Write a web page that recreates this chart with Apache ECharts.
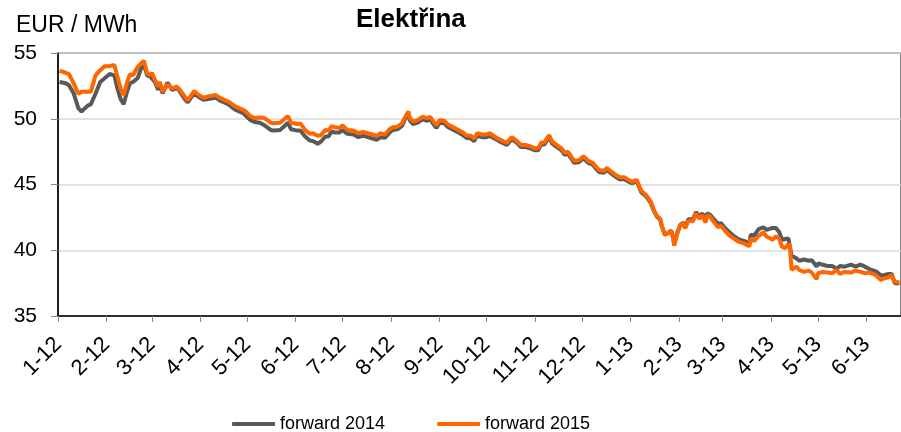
<!DOCTYPE html>
<html>
<head>
<meta charset="utf-8">
<script src="https://cdn.jsdelivr.net/npm/echarts@6/dist/echarts.min.js"></script>
<style>
  html, body { margin: 0; padding: 0; background: #fff; }
  #chart { width: 901px; height: 432px; }
</style>
</head>
<body>
<div id="chart"></div>
<script>
// trading days
const dates = [
  '2012-01-02','2012-01-03','2012-01-06','2012-01-08','2012-01-11','2012-01-14','2012-01-16','2012-01-20','2012-01-22','2012-01-25','2012-01-28','2012-01-31',
  '2012-02-03','2012-02-06','2012-02-08','2012-02-10','2012-02-12','2012-02-14','2012-02-16','2012-02-18','2012-02-21','2012-02-23','2012-02-25','2012-02-27','2012-02-29',
  '2012-03-01','2012-03-03','2012-03-05','2012-03-06','2012-03-08','2012-03-11','2012-03-14','2012-03-17','2012-03-19','2012-03-22','2012-03-24','2012-03-28','2012-03-31',
  '2012-04-03','2012-04-06','2012-04-11','2012-04-14','2012-04-17','2012-04-19','2012-04-22','2012-04-24','2012-04-28','2012-04-30',
  '2012-05-03','2012-05-06','2012-05-09','2012-05-12','2012-05-16','2012-05-18','2012-05-22','2012-05-24','2012-05-27','2012-05-29',
  '2012-06-02','2012-06-04','2012-06-07','2012-06-10','2012-06-12','2012-06-15','2012-06-17','2012-06-20','2012-06-22','2012-06-24','2012-06-26','2012-06-29',
  '2012-07-01','2012-07-04','2012-07-08','2012-07-11','2012-07-14','2012-07-17','2012-07-20','2012-07-23','2012-07-25','2012-07-28','2012-07-31',
  '2012-08-02','2012-08-05','2012-08-08','2012-08-10','2012-08-12','2012-08-13','2012-08-15','2012-08-18','2012-08-21','2012-08-24','2012-08-26','2012-08-28','2012-08-30',
  '2012-09-01','2012-09-04','2012-09-06','2012-09-09','2012-09-13','2012-09-16','2012-09-18','2012-09-21','2012-09-23','2012-09-25','2012-09-28',
  '2012-10-01','2012-10-03','2012-10-06','2012-10-09','2012-10-14','2012-10-17','2012-10-20','2012-10-23','2012-10-26','2012-10-29',
  '2012-11-01','2012-11-03','2012-11-05','2012-11-07','2012-11-10','2012-11-12','2012-11-15','2012-11-18','2012-11-20','2012-11-22','2012-11-24','2012-11-26','2012-11-29',
  '2012-12-02','2012-12-05','2012-12-08','2012-12-10','2012-12-12','2012-12-15','2012-12-17','2012-12-20','2012-12-23','2012-12-25','2012-12-28','2012-12-31',
  '2013-01-02','2013-01-05','2013-01-08','2013-01-11','2013-01-14','2013-01-16','2013-01-18','2013-01-20','2013-01-21','2013-01-23','2013-01-25','2013-01-27','2013-01-28','2013-01-29','2013-01-31',
  '2013-02-02','2013-02-04','2013-02-05','2013-02-07','2013-02-10','2013-02-12','2013-02-14','2013-02-16','2013-02-18','2013-02-19','2013-02-21','2013-02-23','2013-02-26','2013-02-28',
  '2013-03-02','2013-03-05','2013-03-08','2013-03-11','2013-03-15','2013-03-18','2013-03-19','2013-03-21','2013-03-24','2013-03-27','2013-03-29',
  '2013-04-02','2013-04-04','2013-04-06','2013-04-08','2013-04-10','2013-04-12','2013-04-13','2013-04-14','2013-04-17','2013-04-19','2013-04-22','2013-04-25','2013-04-27','2013-04-30',
  '2013-05-01','2013-05-04','2013-05-07','2013-05-10','2013-05-13','2013-05-15','2013-05-18','2013-05-22','2013-05-25','2013-05-28','2013-05-31',
  '2013-06-03','2013-06-07','2013-06-10','2013-06-12','2013-06-15','2013-06-17','2013-06-19','2013-06-22'
];

const forward2014 = [
  52.8, 52.75, 52.7, 52.55, 51.95, 50.8, 50.55, 51.0, 51.1, 51.9, 52.8, 53.1,
  53.4, 53.3, 52.3, 51.5, 51.1, 52.0, 52.7, 52.8, 53.1, 53.8, 54.1, 53.3, 53.2,
  53.3, 52.8, 52.2, 52.5, 51.95, 52.75, 52.2, 52.35, 52.05, 51.5, 51.25, 51.95, 51.65,
  51.45, 51.5, 51.6, 51.35, 51.2, 51.1, 50.8, 50.65, 50.45, 50.25,
  49.9, 49.75, 49.7, 49.5, 49.15, 49.1, 49.15, 49.35, 49.7, 49.2,
  49.1, 49.1, 48.65, 48.35, 48.3, 48.1, 48.25, 48.65, 48.65, 49.05, 48.95, 48.95,
  49.15, 48.85, 48.8, 48.6, 48.7, 48.6, 48.5, 48.4, 48.6, 48.55, 48.95,
  49.15, 49.2, 49.45, 50.0, 50.45, 49.85, 49.6, 49.7, 49.95, 49.85, 49.95, 49.6, 49.3,
  49.7, 49.65, 49.4, 49.2, 48.95, 48.75, 48.55, 48.5, 48.3, 48.7, 48.6,
  48.6, 48.7, 48.5, 48.3, 48.0, 48.45, 48.2, 47.85, 47.85, 47.75,
  47.6, 47.6, 48.05, 48.05, 48.6, 48.1, 47.85, 47.6, 47.25, 47.35, 47.0, 46.65, 46.7,
  47.0, 46.65, 46.5, 46.2, 45.95, 45.9, 46.1, 45.8, 45.55, 45.4, 45.4, 45.2,
  45.1, 45.25, 44.4, 44.1, 43.6, 43.0, 42.55, 42.35, 41.85, 41.2, 41.3, 41.5, 41.1, 40.5, 41.35,
  41.95, 42.1, 41.75, 42.35, 42.35, 42.9, 42.55, 42.8, 42.3, 42.8, 42.7, 42.4, 42.0, 42.05,
  41.75, 41.4, 41.1, 40.85, 40.7, 40.5, 41.2, 41.1, 41.6, 41.75, 41.55,
  41.7, 41.7, 41.4, 40.8, 40.85, 40.9, 40.85, 39.6, 39.4, 39.2, 39.3, 39.2, 39.25, 38.75,
  39.0, 38.9, 38.8, 38.8, 38.6, 38.8, 38.75, 38.9, 38.75, 38.9, 38.75,
  38.55, 38.4, 38.1, 38.1, 38.2, 38.2, 37.5, 37.5
];

const forward2015 = [
  53.65, 53.8, 53.5, 53.4, 52.7, 51.9, 52.05, 52.05, 52.05, 53.3, 53.7, 54.0,
  54.0, 54.1, 53.2, 52.3, 51.8, 52.7, 53.4, 53.3, 53.95, 54.2, 54.4, 53.45, 53.3,
  53.5, 52.95, 52.45, 52.8, 52.05, 52.6, 52.3, 52.45, 52.2, 51.7, 51.4, 52.1, 51.8,
  51.6, 51.7, 51.8, 51.55, 51.4, 51.3, 51.05, 50.9, 50.7, 50.55,
  50.2, 50.05, 50.1, 50.05, 49.7, 49.65, 49.7, 49.9, 50.2, 49.7,
  49.6, 49.65, 49.15, 48.85, 48.9, 48.7, 48.75, 49.15, 49.1, 49.45, 49.35, 49.3,
  49.5, 49.15, 49.1, 48.9, 49.0, 48.9, 48.8, 48.7, 48.9, 48.8, 49.2,
  49.35, 49.4, 49.65, 50.15, 50.55, 50.05, 49.8, 49.9, 50.15, 50.05, 50.15, 49.8, 49.5,
  49.9, 49.85, 49.6, 49.4, 49.15, 48.95, 48.75, 48.7, 48.5, 48.9, 48.8,
  48.8, 48.9, 48.65, 48.45, 48.15, 48.6, 48.35, 48.0, 48.0, 47.9,
  47.75, 47.75, 48.2, 48.2, 48.75, 48.25, 48.0, 47.75, 47.4, 47.5, 47.15, 46.8, 46.85,
  47.15, 46.8, 46.65, 46.35, 46.1, 46.05, 46.25, 45.95, 45.7, 45.55, 45.55, 45.35,
  45.2, 45.35, 44.5, 44.2, 43.7, 43.05, 42.6, 42.4, 41.9, 41.15, 41.3, 41.5, 41.05, 40.35, 41.3,
  41.9, 42.05, 41.65, 42.25, 42.2, 42.8, 42.4, 42.65, 42.1, 42.65, 42.55, 42.2, 41.75, 41.85,
  41.55, 41.15, 40.9, 40.65, 40.5, 40.3, 40.9, 40.7, 41.1, 41.35, 41.05,
  40.8, 41.05, 40.9, 40.25, 40.15, 40.5, 40.3, 38.5, 38.75, 38.5, 38.35, 38.45, 38.3, 37.8,
  38.25, 38.35, 38.3, 38.25, 38.5, 38.2, 38.35, 38.3, 38.45, 38.35, 38.25,
  38.3, 38.1, 37.75, 37.85, 37.95, 38.1, 37.6, 37.55
];

// month starts used for ticks and labels (1-12 ... 6-13)
const tickMonths = [
  '2012-01-01','2012-02-01','2012-03-01','2012-04-01','2012-05-01','2012-06-01',
  '2012-07-01','2012-08-01','2012-09-01','2012-10-01','2012-11-01','2012-12-01',
  '2013-01-01','2013-02-01','2013-03-01','2013-04-01','2013-05-01','2013-06-01'
];

const toTime = (s) => new Date(s + 'T00:00:00').getTime();
const tickValues = tickMonths.map(toTime);
const font = 'Liberation Sans, Arial, sans-serif';

const chart = echarts.init(document.getElementById('chart'));

const option = {
  animation: false,
  backgroundColor: '#fff',
  textStyle: { fontFamily: font },
  title: [
    {
      text: 'Elektřina',
      left: 351,
      top: 2,
      textStyle: { fontFamily: font, fontSize: 26, fontWeight: 'bold', color: '#000' }
    },
    {
      text: 'EUR / MWh',
      left: 11,
      top: 9,
      textStyle: { fontFamily: font, fontSize: 23, fontWeight: 'normal', color: '#000' }
    }
  ],
  legend: {
    top: 410,
    left: 227,
    itemGap: 52,
    itemWidth: 43,
    itemHeight: 4,
    icon: 'roundRect',
    textStyle: { fontFamily: font, fontSize: 18, color: '#000' },
    data: ['forward 2014', 'forward 2015']
  },
  grid: {
    left: 58,
    right: -2,
    top: 53,
    bottom: 116,
    show: true,
    borderColor: '#000',
    borderWidth: 1
  },
  // plain value axis holding timestamps, ticks placed on month starts
  xAxis: {
    type: 'value',
    min: toTime('2012-01-01'),
    max: toTime('2013-06-23'),
    axisLine: { lineStyle: { color: '#000', width: 1.5 } },
    axisTick: {
      customValues: tickValues,
      length: 6,
      lineStyle: { color: '#888' }
    },
    axisLabel: {
      customValues: tickValues,
      rotate: 45,
      margin: 25,
      fontFamily: font,
      fontSize: 22,
      color: '#000',
      formatter: (value) => {
        const d = new Date(value);
        return (d.getMonth() + 1) + '-' + String(d.getFullYear()).slice(2);
      }
    },
    splitLine: { show: false }
  },
  yAxis: {
    type: 'value',
    min: 35,
    max: 55,
    interval: 5,
    axisLine: { show: true, lineStyle: { color: '#000', width: 1.5 } },
    axisTick: { show: true, length: 7, lineStyle: { color: '#888' } },
    axisLabel: { fontFamily: font, fontSize: 21, color: '#000', margin: 21 },
    splitLine: { lineStyle: { color: '#d9d9d9', width: 1.5 } }
  },
  series: [
    {
      name: 'forward 2014',
      type: 'line',
      showSymbol: false,
      color: '#595959',
      lineStyle: { width: 4, color: '#595959' },
      data: dates.map((d, i) => [toTime(d), forward2014[i]])
    },
    {
      name: 'forward 2015',
      type: 'line',
      showSymbol: false,
      color: '#ff6600',
      lineStyle: { width: 4, color: '#ff6600' },
      data: dates.map((d, i) => [toTime(d), forward2015[i]])
    }
  ]
};

chart.setOption(option);
</script>
</body>
</html>
